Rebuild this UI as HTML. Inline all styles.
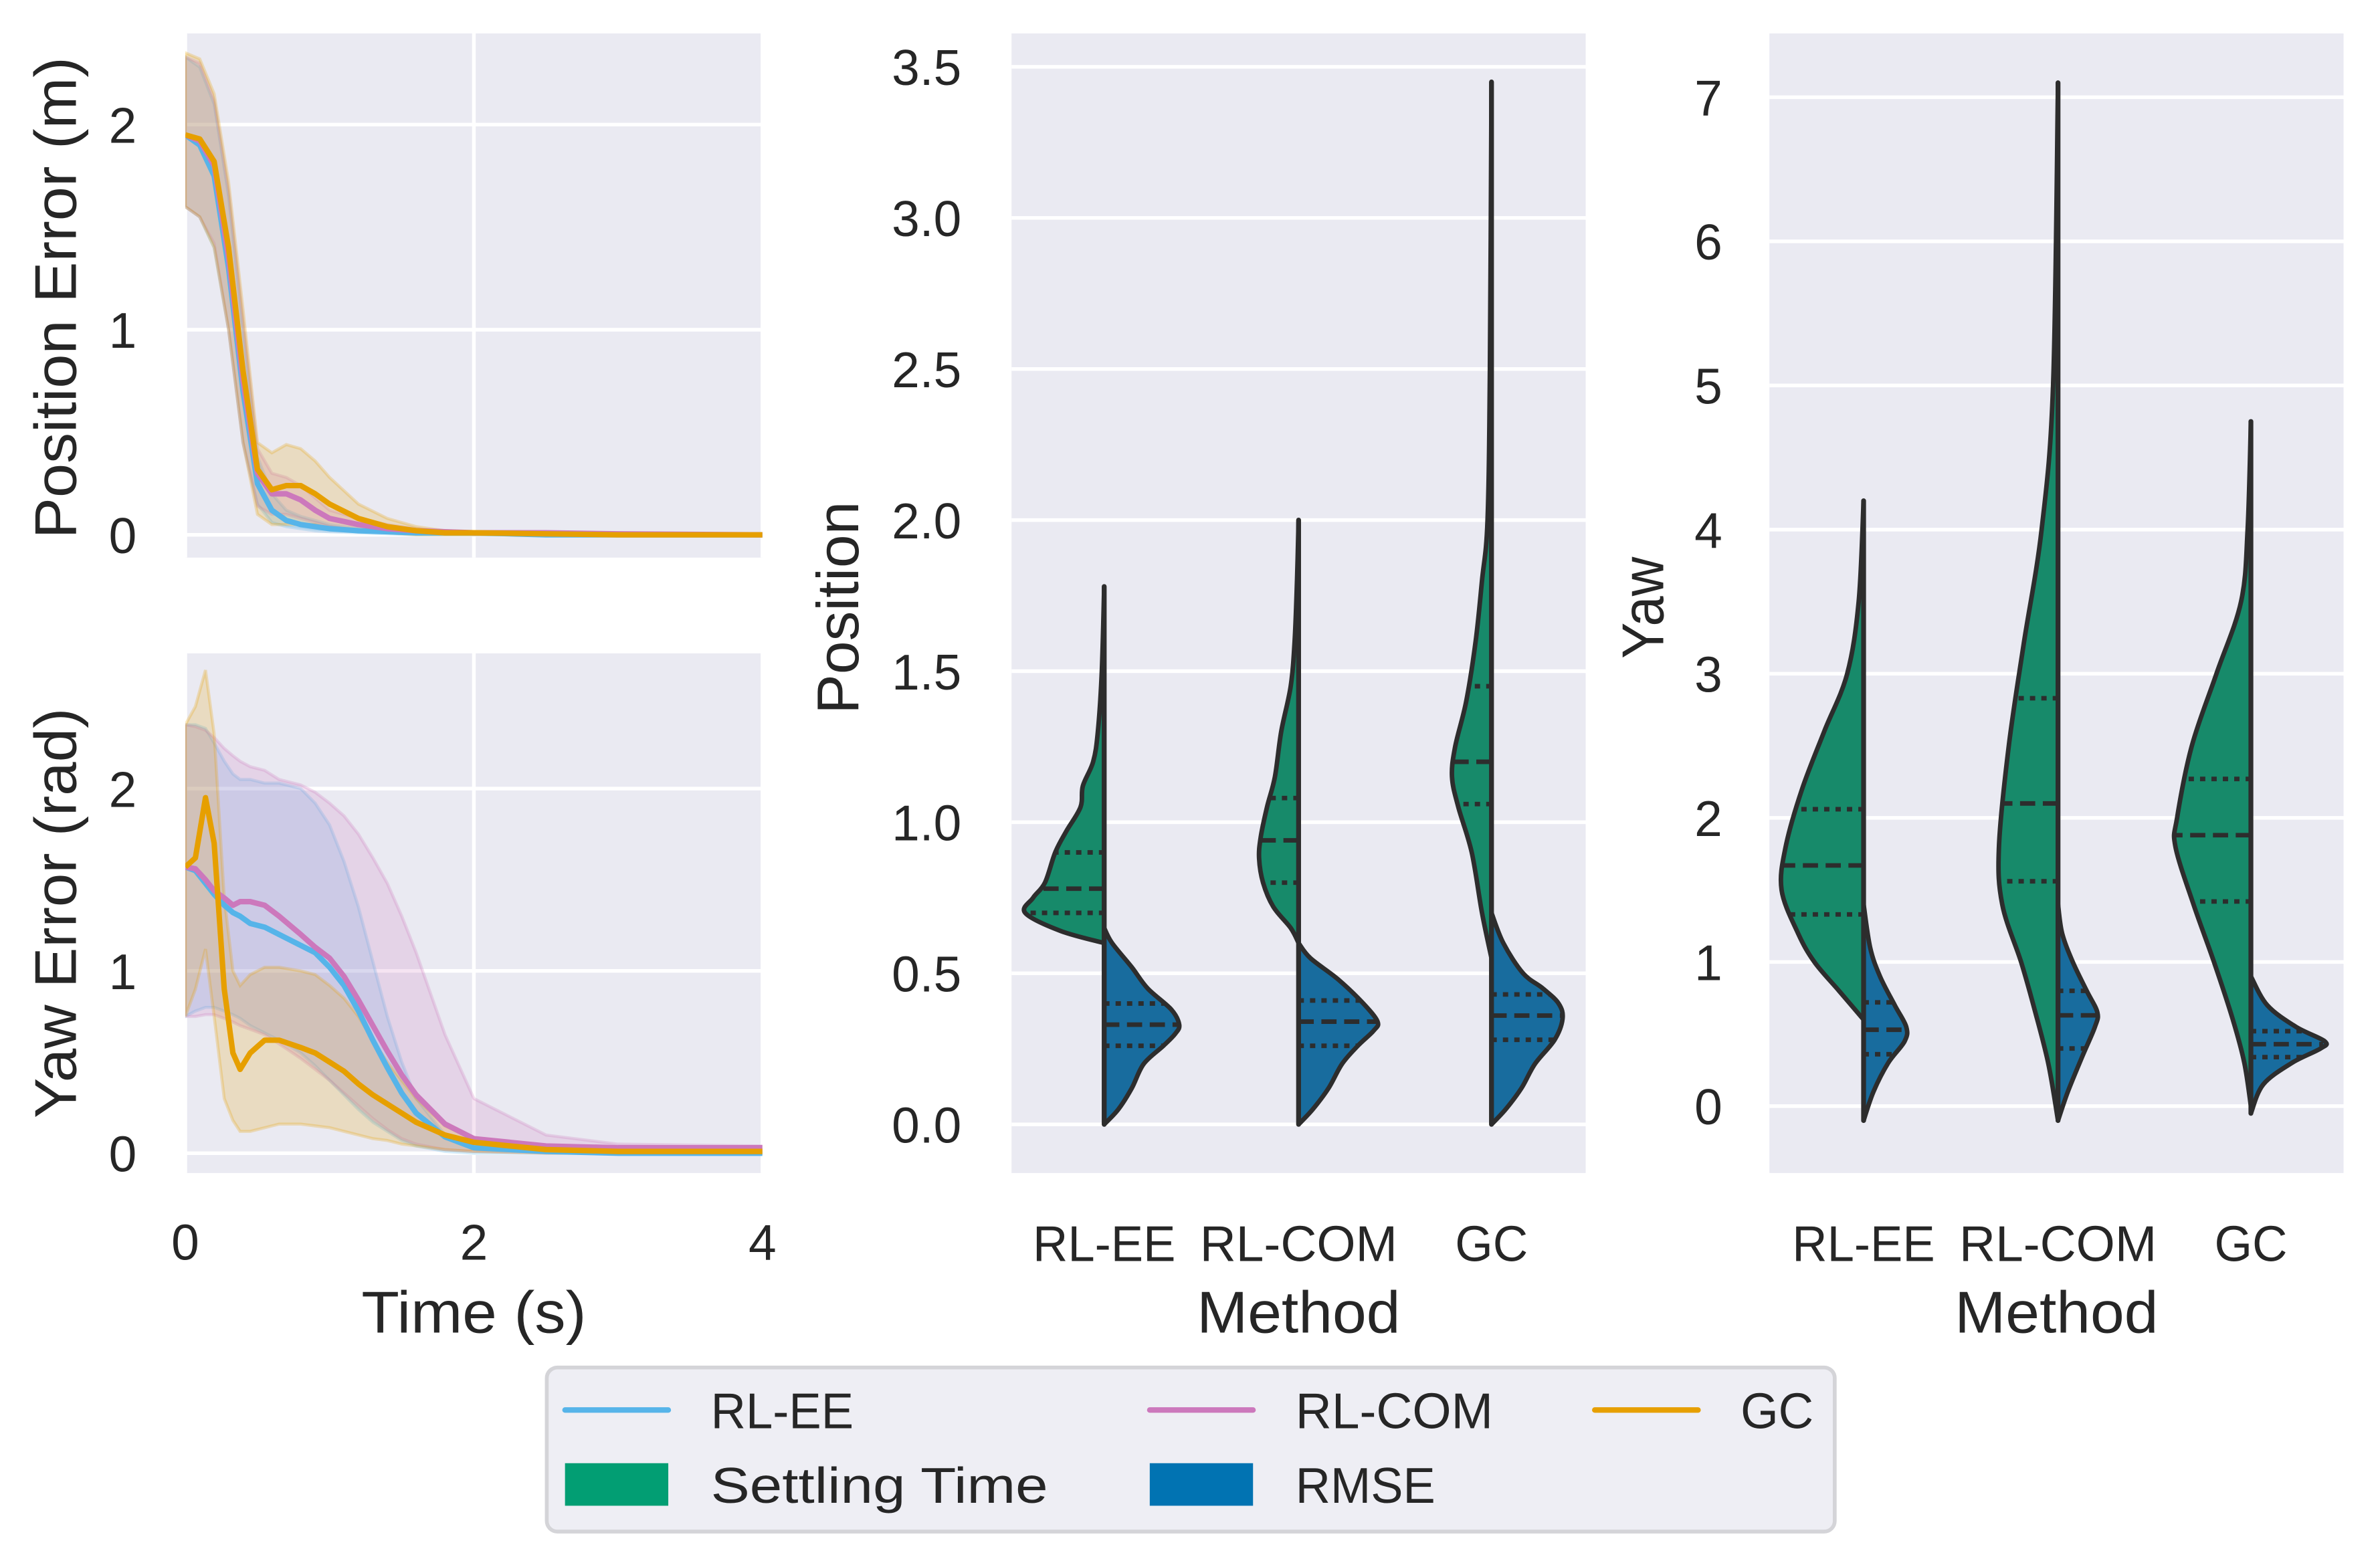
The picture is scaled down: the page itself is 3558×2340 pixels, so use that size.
<!DOCTYPE html>
<html><head><meta charset="utf-8"><style>
html,body{margin:0;padding:0;background:#fff}
svg{display:block}
text{font-family:"Liberation Sans","DejaVu Sans",sans-serif;fill:#262626}
</style></head><body>
<svg id="fig" width="3558" height="2340" viewBox="0 0 1567 1030" preserveAspectRatio="none" xmlns="http://www.w3.org/2000/svg"></svg>
<script>
// ---------- data ----------
const seriesNames = ["RL-EE","RL-COM","GC"];
const seriesColors = ["#56b4e9","#cc78bc","#e69f00"];
const posTimes = [0,0.1,0.2,0.3,0.4,0.5,0.6,0.7,0.8,0.9,1.0,1.2,1.4,1.6,1.8,2.0,2.5,3,4];
const posEE  = [1.95,1.9,1.75,1.3,0.7,0.25,0.12,0.07,0.05,0.04,0.03,0.02,0.015,0.01,0.01,0.01,0,0,0];
const posCOM = [1.95,1.92,1.8,1.35,0.75,0.3,0.2,0.2,0.17,0.12,0.08,0.05,0.03,0.02,0.015,0.01,0.01,0.005,0];
const posGC  = [1.95,1.93,1.82,1.4,0.8,0.32,0.22,0.24,0.24,0.2,0.15,0.08,0.04,0.02,0.01,0.01,0.005,0,0];
const posEEHi  = [2.33,2.28,2.1,1.65,1.0,0.38,0.2,0.12,0.09,0.07,0.05,0.03,0.02,0.015,0.01,0.01,0,0,0];
const posEELo  = [1.6,1.55,1.4,1.0,0.45,0.15,0.06,0.04,0.03,0.02,0.015,0.01,0.005,0,0,0,0,0,0];
const posCOMHi = [2.33,2.3,2.12,1.68,1.05,0.42,0.3,0.28,0.24,0.18,0.12,0.08,0.05,0.03,0.02,0.015,0.01,0.01,0];
const posCOMLo = [1.6,1.55,1.42,1.0,0.45,0.14,0.1,0.1,0.08,0.06,0.04,0.02,0.01,0.01,0.01,0.005,0,0,0];
const posGCHi  = [2.35,2.32,2.15,1.72,1.1,0.45,0.4,0.44,0.42,0.36,0.28,0.15,0.08,0.04,0.02,0.01,0.01,0,0];
const posGCLo  = [1.6,1.55,1.4,1.0,0.45,0.1,0.05,0.05,0.05,0.05,0.03,0.02,0.01,0,0,0,0,0,0];

const yawTimes = [0,0.07,0.14,0.2,0.27,0.33,0.38,0.45,0.55,0.65,0.8,0.9,1.0,1.1,1.2,1.3,1.4,1.5,1.6,1.8,2.0,2.5,3,4];
const yawEE  = [1.57,1.55,1.48,1.42,1.36,1.32,1.3,1.26,1.24,1.2,1.14,1.1,1.02,0.92,0.78,0.62,0.47,0.33,0.22,0.09,0.03,0.01,0,0];
const yawCOM = [1.57,1.56,1.5,1.44,1.4,1.36,1.38,1.38,1.36,1.3,1.2,1.13,1.07,0.97,0.84,0.7,0.56,0.43,0.32,0.16,0.08,0.04,0.03,0.03];
const yawGC  = [1.57,1.62,1.95,1.7,0.9,0.55,0.46,0.55,0.62,0.62,0.58,0.55,0.5,0.45,0.38,0.32,0.27,0.22,0.17,0.1,0.06,0.02,0.01,0.01];
const yawEEHi  = [2.35,2.35,2.33,2.25,2.15,2.08,2.05,2.05,2.03,2.03,2.0,1.92,1.8,1.6,1.35,1.05,0.75,0.5,0.3,0.1,0.04,0.01,0,0];
const yawEELo  = [0.75,0.78,0.8,0.8,0.78,0.76,0.74,0.7,0.66,0.62,0.55,0.48,0.4,0.32,0.24,0.17,0.12,0.07,0.04,0.01,0,0,0,0];
const yawCOMHi = [2.35,2.34,2.32,2.28,2.22,2.18,2.15,2.12,2.1,2.05,2.02,1.98,1.92,1.85,1.75,1.62,1.48,1.3,1.1,0.65,0.3,0.1,0.05,0.04];
const yawCOMLo = [0.75,0.75,0.76,0.76,0.74,0.72,0.7,0.68,0.65,0.6,0.52,0.46,0.4,0.33,0.26,0.19,0.13,0.08,0.05,0.02,0.01,0,0,0];
const yawGCHi  = [2.35,2.45,2.65,2.3,1.4,1.0,0.92,0.98,1.02,1.02,1.0,0.98,0.92,0.85,0.75,0.62,0.5,0.4,0.3,0.15,0.08,0.04,0.02,0.02];
const yawGCLo  = [0.75,0.9,1.12,0.75,0.3,0.18,0.12,0.12,0.14,0.16,0.16,0.15,0.14,0.12,0.1,0.08,0.07,0.05,0.04,0.02,0.01,0,0,0];

const timeTicks = [0,2,4];
const posTicks = [0,1,2];
const yawErrTicks = [0,1,2];

const methods = ["RL-EE","RL-COM","GC"];
const posViolinTicks = ["0.0","0.5","1.0","1.5","2.0","2.5","3.0","3.5"];
const yawViolinTicks = ["0","1","2","3","4","5","6","7"];
// violin profiles: [value, relative density]
const posSettleEE  = [[0.6,0],[0.64,0.55],[0.7,1.0],[0.75,0.9],[0.8,0.75],[0.9,0.62],[0.97,0.48],[1.05,0.3],[1.12,0.27],[1.2,0.14],[1.3,0.08],[1.5,0.03],[1.78,0]];
const posSettleCOM = [[0.6,0],[0.65,0.1],[0.72,0.32],[0.8,0.45],[0.88,0.5],[0.95,0.48],[1.05,0.4],[1.15,0.3],[1.3,0.22],[1.45,0.1],[1.6,0.05],[1.8,0.02],[2.0,0]];
const posSettleGC  = [[0.55,0],[0.7,0.12],[0.9,0.25],[1.05,0.42],[1.15,0.5],[1.25,0.46],[1.4,0.32],[1.6,0.2],[1.8,0.12],[2.0,0.05],[2.5,0.02],[3.45,0]];
const posRmseEE  = [[0,0],[0.05,0.18],[0.12,0.35],[0.2,0.5],[0.26,0.75],[0.3,0.9],[0.33,0.95],[0.38,0.85],[0.45,0.55],[0.52,0.35],[0.6,0.1],[0.65,0]];
const posRmseCOM = [[0,0],[0.05,0.18],[0.12,0.38],[0.2,0.55],[0.26,0.75],[0.31,0.95],[0.34,1.0],[0.4,0.82],[0.48,0.5],[0.55,0.15],[0.6,0]];
const posRmseGC  = [[0,0],[0.05,0.18],[0.12,0.38],[0.2,0.55],[0.28,0.8],[0.35,0.9],[0.4,0.85],[0.45,0.65],[0.5,0.4],[0.6,0.15],[0.7,0]];
const posSettleQ = [[0.70,0.78,0.90],[0.80,0.94,1.08],[1.06,1.20,1.45]];
const posRmseQ   = [[0.26,0.33,0.40],[0.26,0.34,0.41],[0.28,0.36,0.43]];
const yawSettleEE  = [[0.6,0],[0.8,0.3],[1.0,0.6],[1.2,0.8],[1.5,1.0],[1.8,0.95],[2.2,0.75],[2.6,0.48],[3.0,0.2],[3.5,0.06],[4.2,0]];
const yawSettleCOM = [[-0.1,0],[0.3,0.12],[0.7,0.3],[1.0,0.45],[1.4,0.68],[1.8,0.72],[2.5,0.6],[3.2,0.42],[4.0,0.2],[5.0,0.06],[7.1,0]];
const yawSettleGC  = [[0,0],[0.3,0.08],[0.6,0.22],[1.0,0.45],[1.4,0.7],[1.8,0.92],[2.0,0.9],[2.5,0.72],[3.0,0.42],[3.5,0.12],[4.0,0.04],[4.75,0]];
const yawRmseEE  = [[-0.1,0],[0.1,0.12],[0.3,0.3],[0.45,0.5],[0.55,0.52],[0.7,0.38],[0.9,0.2],[1.1,0.08],[1.4,0]];
const yawRmseCOM = [[-0.1,0],[0.1,0.12],[0.35,0.3],[0.55,0.45],[0.65,0.48],[0.8,0.35],[1.0,0.18],[1.2,0.05],[1.4,0]];
const yawRmseGC  = [[-0.05,0],[0.15,0.15],[0.3,0.5],[0.4,0.85],[0.45,0.9],[0.55,0.55],[0.7,0.2],[0.9,0]];
const yawSettleQ = [[1.33,1.67,2.06],[1.56,2.10,2.83],[1.42,1.88,2.27]];
const yawRmseQ   = [[0.36,0.53,0.72],[0.40,0.63,0.80],[0.34,0.43,0.52]];

// ---------- helpers ----------
const NS="http://www.w3.org/2000/svg";
const svg=document.getElementById('fig');
function el(tag,attrs,parent){const e=document.createElementNS(NS,tag);for(const k in attrs)e.setAttribute(k,attrs[k]);(parent||svg).appendChild(e);return e;}
function txt(s,x,y,size,anchor,parent,rot,len){const t=el('text',{x:x,y:y,'font-size':size,'text-anchor':anchor||'middle'},parent);if(rot)t.setAttribute('transform',`rotate(-90 ${x} ${y})`);if(len){t.setAttribute('textLength',len);t.setAttribute('lengthAdjust','spacingAndGlyphs');}t.textContent=s;return t;}
const BG="#eaeaf2", GREEN="#178a6a", BLUE="#186c9e", EDGE="#2d2d2d";
const TICK=33, TITLE=39;
const methodLen={"RL-EE":94,"RL-COM":130,"GC":48};

// ---------- line panels ----------
function linePanel(name,x0,x1,yTop,yBot,yZero,pxPerUnit,ticks,times,means,his,los,showX,ylabel,ylabelY,ylabelLen){
  const g=el('g',{});
  
  
  el('rect',{x:x0,y:yTop,width:x1-x0,height:yBot-yTop,fill:BG},g);
  const X=t=>x0+(x1-x0)*t/4, Y=v=>yZero-v*pxPerUnit;
  timeTicks.forEach(t=>{el('line',{x1:X(t),x2:X(t),y1:yTop,y2:yBot,stroke:'#fff','stroke-width':2.4},g);});
  ticks.forEach(v=>{el('line',{x1:x0,x2:x1,y1:Y(v),y2:Y(v),stroke:'#fff','stroke-width':2.4},g);
    const t=txt(String(v),90,Y(v)+12,TICK,'end',g);});
  const cp=el('clipPath',{id:name+'-clip'},g);el('rect',{x:x0,y:yTop,width:x1-x0,height:yBot-yTop},cp);
  const inner=el('g',{'clip-path':`url(#${name}-clip)`},g);
  for(let s=0;s<3;s++){
    let d='';times.forEach((t,i)=>{d+=(i?'L':'M')+X(t)+','+Y(his[s][i]);});
    for(let i=times.length-1;i>=0;i--)d+='L'+X(times[i])+','+Y(los[s][i]);
    const b=el('path',{d:d+'Z',fill:seriesColors[s],'fill-opacity':0.2,stroke:seriesColors[s],'stroke-opacity':0.25,'stroke-width':2},inner);
    
    
  }
  for(let s=0;s<3;s++){
    const p=times.map((t,i)=>X(t)+','+Y(means[s][i])).join(' ');
    const l=el('polyline',{points:p,fill:'none',stroke:seriesColors[s],'stroke-width':3.6,'stroke-linejoin':'round'},inner);
    
    
  }
  if(showX){timeTicks.forEach(t=>{const tl=txt(String(t),X(t),829,TICK,'middle',g);});
    const xl=txt('Time (s)',312,877,TITLE,'middle',g,false,148);}
  const yl=txt(ylabel,50,ylabelY,TITLE,'middle',g,true,ylabelLen);
}
linePanel('position-error-panel',122,502,22,367,352,135,posTicks,posTimes,[posEE,posCOM,posGC],[posEEHi,posCOMHi,posGCHi],[posEELo,posCOMLo,posGCLo],false,'Position Error (m)',196,317);
linePanel('yaw-error-panel',122,502,430,772,759,120,yawErrTicks,yawTimes,[yawEE,yawCOM,yawGC],[yawEEHi,yawCOMHi,yawGCHi],[yawEELo,yawCOMLo,yawGCLo],true,'Yaw Error (rad)',601,270);

// ---------- violin panels ----------
function interpW(prof,v){for(let i=1;i<prof.length;i++){if(v<=prof[i][0]){const a=prof[i-1],b=prof[i];return a[1]+(b[1]-a[1])*(v-a[0])/(b[0]-a[0]);}}return 0;}
function smoothPath(pts){let d='M'+pts[0][0]+','+pts[0][1];
  for(let i=0;i<pts.length-1;i++){const p0=pts[Math.max(0,i-1)],p1=pts[i],p2=pts[i+1],p3=pts[Math.min(pts.length-1,i+2)];
    d+=`C${p1[0]+(p2[0]-p0[0])/6},${p1[1]+(p2[1]-p0[1])/6} ${p2[0]-(p3[0]-p1[0])/6},${p2[1]-(p3[1]-p1[1])/6} ${p2[0]},${p2[1]}`;}return d;}
function violinPanel(name,x0,x1,yTop,yBot,Y,tickLabels,tickVals,labelRight,cats,settle,rmse,sQ,rQ,maxW,ylabel,ylabelX,ylabelLen){
  const g=el('g',{});
  
  
  el('rect',{x:x0,y:yTop,width:x1-x0,height:yBot-yTop,fill:BG},g);
  tickVals.forEach((v,i)=>{el('line',{x1:x0,x2:x1,y1:Y(v),y2:Y(v),stroke:'#fff','stroke-width':2.4},g);
    const t=txt(tickLabels[i],labelRight,Y(v)+12,TICK,'end',g);});
  const yl=txt(ylabel,ylabelX,400,TITLE,'middle',g,true,ylabelLen);
  cats.forEach((cx,k)=>{
    [[settle[k],sQ[k],-1,GREEN,'settling-time'],[rmse[k],rQ[k],1,BLUE,'rmse']].forEach(([prof,q,dir,col,nm])=>{
      const pts=prof.map(p=>[cx+dir*p[1]*maxW,Y(p[0])]);
      const d=smoothPath(pts)+`L${cx},${Y(prof[prof.length-1][0])}L${cx},${Y(prof[0][0])}Z`;
      const v=el('path',{d:d,fill:col,stroke:EDGE,'stroke-width':3,'stroke-linejoin':'round'},g);
      
      
      q.forEach((qv,j)=>{const w=interpW(prof,qv)*maxW;
        el('line',{x1:cx,x2:cx+dir*w,y1:Y(qv),y2:Y(qv),stroke:EDGE,'stroke-width':3,'stroke-dasharray':j==1?'10,5':'3.5,4'},g);});
    });
    const lo=Math.min(settle[k][0][0],rmse[k][0][0]),hi=Math.max(settle[k][settle[k].length-1][0],rmse[k][rmse[k].length-1][0]);
    el('line',{x1:cx,x2:cx,y1:Y(lo),y2:Y(hi),stroke:EDGE,'stroke-width':3.2,'stroke-linecap':'round'},g);
    const tl=txt(methods[k],cx,830,TICK,'middle',g,false,methodLen[methods[k]]);
  });
  const xl=txt('Method',(x0+x1)/2,877,TITLE,'middle',g,false,134);
}
violinPanel('position-violin-panel',666,1044,22,772,v=>740-v*198.86,posViolinTicks,posViolinTicks.map(Number),633,[727,855,982],
  [posSettleEE,posSettleCOM,posSettleGC],[posRmseEE,posRmseCOM,posRmseGC],posSettleQ,posRmseQ,52,'Position',565,140);
violinPanel('yaw-violin-panel',1165,1543,22,772,v=>728-v*94.86,yawViolinTicks,yawViolinTicks.map(Number),1134,[1227,1355,1482],
  [yawSettleEE,yawSettleCOM,yawSettleGC],[yawRmseEE,yawRmseCOM,yawRmseGC],yawSettleQ,yawRmseQ,54,'Yaw',1095,67);

// ---------- legend ----------
const lg=el('g',{});


el('rect',{x:360,y:900,width:848,height:108,rx:7,fill:'#eeeef4',stroke:'#d4d4d8','stroke-width':2.5},lg);
const legItems=[["RL-EE",372,928,'line',seriesColors[0],94],["RL-COM",757,928,'line',seriesColors[1],130],["GC",1050,928,'line',seriesColors[2],48],
  ["Settling Time",372,977,'patch','#029e73',222],["RMSE",757,977,'patch','#0173b2',92]];
legItems.forEach(([lab,x,y,kind,col,len])=>{
  const e=el('g',{},lg);
  
  
  if(kind==='line')el('line',{x1:x,x2:x+68,y1:y,y2:y,stroke:col,'stroke-width':3.6,'stroke-linecap':'round'},e);
  else el('rect',{x:x,y:y-14,width:68,height:28,fill:col},e);
  txt(lab,x+96,y+12,TICK,'start',e,false,len);
});
</script>
</body></html>
